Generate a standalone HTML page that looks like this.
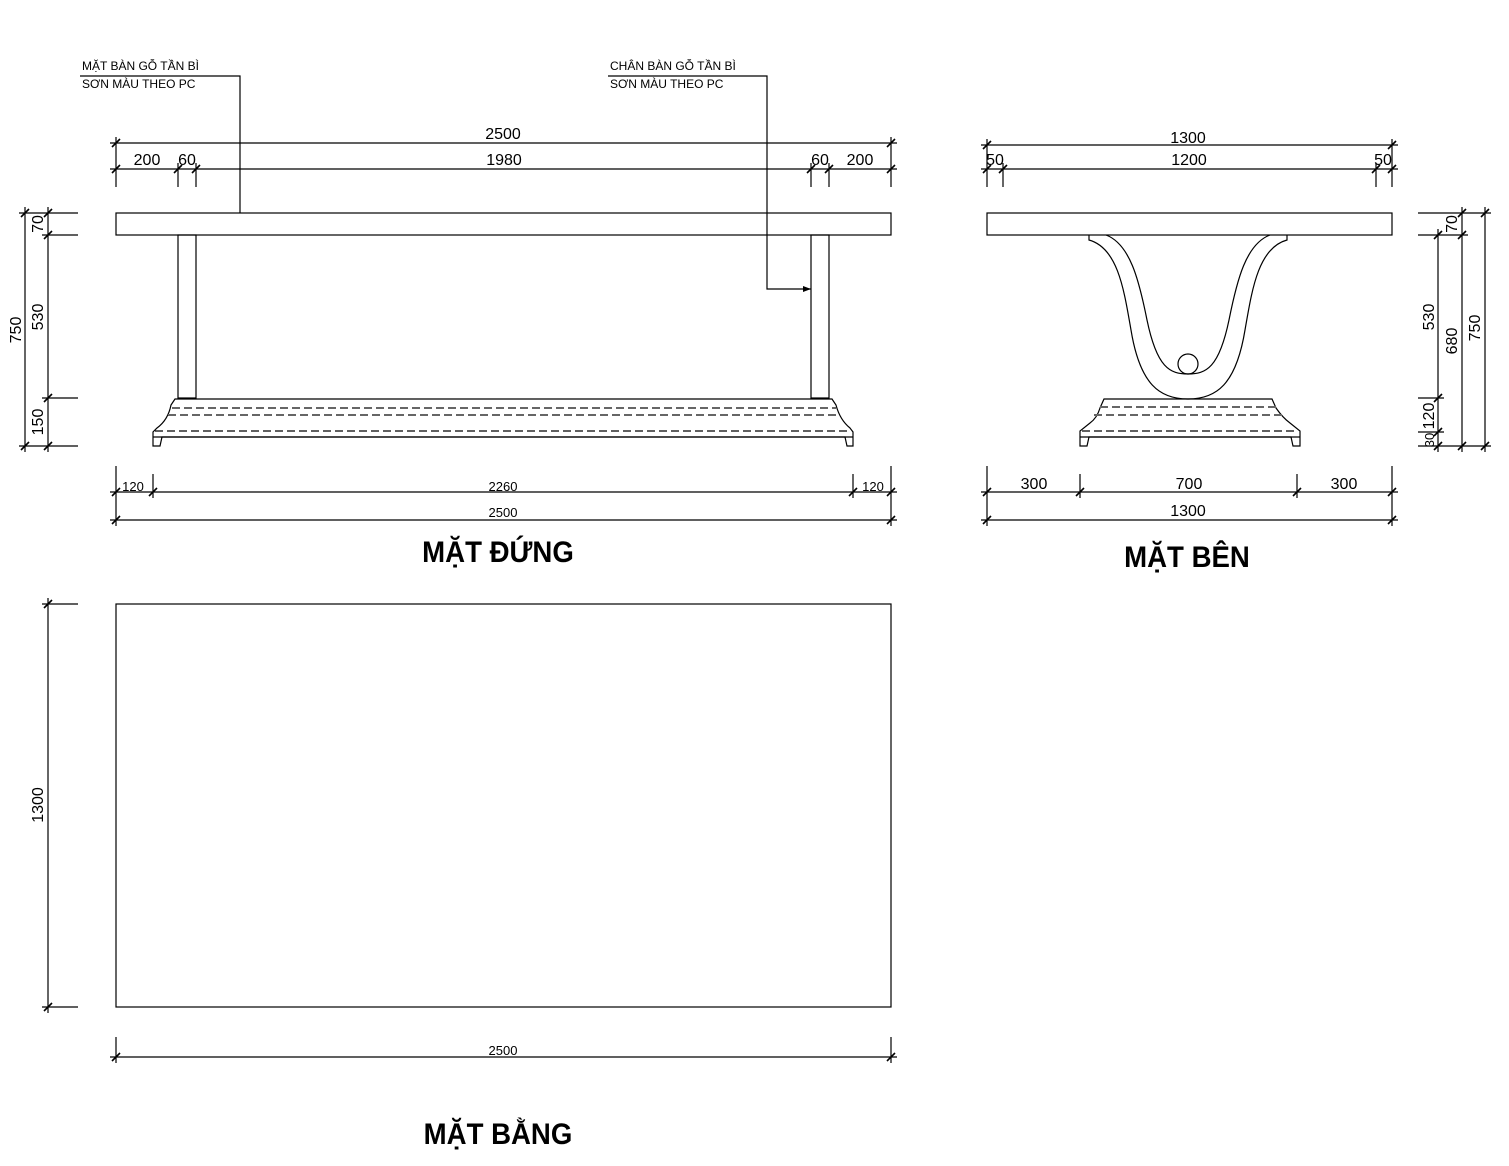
<!DOCTYPE html>
<html><head><meta charset="utf-8"><style>
html,body{margin:0;padding:0;background:#fff;}
svg{display:block;font-family:"Liberation Sans",sans-serif;}
.t{font-size:16px;fill:#000;}
.s{font-size:12px;fill:#000;}
.h{font-size:30px;font-weight:bold;fill:#000;}
</style></head><body>
<svg width="1509" height="1166" viewBox="0 0 1509 1166" xmlns="http://www.w3.org/2000/svg">
<defs>
<g id="tk"><line x1="-4" y1="4" x2="4" y2="-4" stroke="#000" stroke-width="1.6"/></g>
</defs>
<g stroke="#000" stroke-width="1.2" fill="none">
<rect x="116" y="213" width="775" height="22"/>
<rect x="178" y="235" width="18" height="163"/>
<rect x="811" y="235" width="18" height="163"/>
<path d="M175,399 L832,399 L836,405 Q840,420 850,428 L853,432 L853,446 L847,446 L845,437 L162,437 L160,446 L153,446 L153,432 L157,428 Q168,420 171,405 Z"/>
<line x1="153" y1="437" x2="853" y2="437"/>
<line x1="172" y1="408" x2="836" y2="408" stroke="#666" stroke-width="2" stroke-dasharray="8,4"/>
<line x1="168" y1="415" x2="840" y2="415" stroke="#666" stroke-width="2" stroke-dasharray="8,4"/>
<line x1="155" y1="431" x2="851" y2="431" stroke-dasharray="8,4"/>
<line x1="110" y1="143" x2="897" y2="143"/>
<line x1="110" y1="169" x2="897" y2="169"/>
<line x1="116" y1="137" x2="116" y2="187"/>
<line x1="891" y1="137" x2="891" y2="187"/>
<line x1="178" y1="163" x2="178" y2="187"/><line x1="196" y1="163" x2="196" y2="187"/>
<line x1="811" y1="163" x2="811" y2="187"/><line x1="829" y1="163" x2="829" y2="187"/>
<line x1="25" y1="207" x2="25" y2="452"/>
<line x1="48" y1="207" x2="48" y2="452"/>
<line x1="19" y1="213" x2="78" y2="213"/>
<line x1="42" y1="235" x2="78" y2="235"/>
<line x1="42" y1="398" x2="78" y2="398"/>
<line x1="19" y1="446" x2="78" y2="446"/>
<line x1="110" y1="492" x2="897" y2="492"/>
<line x1="110" y1="520" x2="897" y2="520"/>
<line x1="116" y1="466" x2="116" y2="526"/>
<line x1="891" y1="466" x2="891" y2="526"/>
<line x1="153" y1="474" x2="153" y2="498"/>
<line x1="853" y1="474" x2="853" y2="498"/>
<polyline points="80,76 240,76 240,213"/>
<polyline points="608,76 767,76 767,289 811,289"/>
<rect x="987" y="213" width="405" height="22"/>
<path d="M1089,235 L1089,240 C1118,248 1124,290 1131,330 C1140,385 1160,399 1188,399 C1216,399 1236,385 1245,330 C1252,290 1258,248 1287,240 L1287,235"/>
<path d="M1106,235 C1130,244 1139,280 1147,320 C1157,368 1170,374 1188,374 C1206,374 1219,368 1229,320 C1237,280 1246,244 1270,235"/>
<circle cx="1188" cy="364" r="10"/>
<path d="M1104,399 L1272,399 L1276,408 Q1283,418 1290,423 L1300,431 L1300,446 L1293,446 L1291,437 L1089,437 L1087,446 L1080,446 L1080,431 L1090,423 Q1097,418 1100,408 Z"/>
<line x1="1080" y1="437" x2="1300" y2="437"/>
<line x1="1100" y1="407" x2="1276" y2="407" stroke="#666" stroke-width="2" stroke-dasharray="8,4"/>
<line x1="1094" y1="415" x2="1283" y2="415" stroke="#666" stroke-width="2" stroke-dasharray="8,4"/>
<line x1="1082" y1="431" x2="1298" y2="431" stroke-dasharray="8,4"/>
<line x1="981" y1="145" x2="1398" y2="145"/>
<line x1="981" y1="169" x2="1398" y2="169"/>
<line x1="987" y1="139" x2="987" y2="187"/><line x1="1392" y1="139" x2="1392" y2="187"/>
<line x1="1003" y1="163" x2="1003" y2="187"/><line x1="1376" y1="163" x2="1376" y2="187"/>
<line x1="1438" y1="229" x2="1438" y2="452"/>
<line x1="1462" y1="207" x2="1462" y2="452"/>
<line x1="1485" y1="207" x2="1485" y2="452"/>
<line x1="1418" y1="213" x2="1491" y2="213"/>
<line x1="1418" y1="235" x2="1468" y2="235"/>
<line x1="1418" y1="398" x2="1444" y2="398"/>
<line x1="1418" y1="432" x2="1444" y2="432"/>
<line x1="1418" y1="446" x2="1491" y2="446"/>
<line x1="981" y1="492" x2="1398" y2="492"/>
<line x1="981" y1="520" x2="1398" y2="520"/>
<line x1="987" y1="466" x2="987" y2="526"/><line x1="1392" y1="466" x2="1392" y2="526"/>
<line x1="1080" y1="474" x2="1080" y2="498"/><line x1="1297" y1="474" x2="1297" y2="498"/>
<rect x="116" y="604" width="775" height="403"/>
<line x1="48" y1="598" x2="48" y2="1013"/>
<line x1="42" y1="604" x2="78" y2="604"/>
<line x1="42" y1="1007" x2="78" y2="1007"/>
<line x1="110" y1="1057" x2="897" y2="1057"/>
<line x1="116" y1="1037" x2="116" y2="1063"/>
<line x1="891" y1="1037" x2="891" y2="1063"/>
</g>
<g>
<use href="#tk" x="116" y="143"/><use href="#tk" x="891" y="143"/>
<use href="#tk" x="116" y="169"/><use href="#tk" x="178" y="169"/><use href="#tk" x="196" y="169"/><use href="#tk" x="811" y="169"/><use href="#tk" x="829" y="169"/><use href="#tk" x="891" y="169"/>
<use href="#tk" x="25" y="213"/><use href="#tk" x="25" y="446"/>
<use href="#tk" x="48" y="213"/><use href="#tk" x="48" y="235"/><use href="#tk" x="48" y="398"/><use href="#tk" x="48" y="446"/>
<use href="#tk" x="116" y="492"/><use href="#tk" x="153" y="492"/><use href="#tk" x="853" y="492"/><use href="#tk" x="891" y="492"/>
<use href="#tk" x="116" y="520"/><use href="#tk" x="891" y="520"/>
<use href="#tk" x="987" y="145"/><use href="#tk" x="1392" y="145"/>
<use href="#tk" x="987" y="169"/><use href="#tk" x="1003" y="169"/><use href="#tk" x="1376" y="169"/><use href="#tk" x="1392" y="169"/>
<use href="#tk" x="1438" y="235"/><use href="#tk" x="1438" y="398"/><use href="#tk" x="1438" y="432"/><use href="#tk" x="1438" y="446"/>
<use href="#tk" x="1462" y="213"/><use href="#tk" x="1462" y="235"/><use href="#tk" x="1462" y="446"/>
<use href="#tk" x="1485" y="213"/><use href="#tk" x="1485" y="446"/>
<use href="#tk" x="987" y="492"/><use href="#tk" x="1080" y="492"/><use href="#tk" x="1297" y="492"/><use href="#tk" x="1392" y="492"/>
<use href="#tk" x="987" y="520"/><use href="#tk" x="1392" y="520"/>
<use href="#tk" x="48" y="604"/><use href="#tk" x="48" y="1007"/>
<use href="#tk" x="116" y="1057"/><use href="#tk" x="891" y="1057"/>
</g>
<polygon points="811,289 803,286 803,292" fill="#000"/>
<g class="s">
<text x="82" y="70">MẶT BÀN GỖ TẦN BÌ</text>
<text x="82" y="88">SƠN MÀU THEO PC</text>
<text x="610" y="70">CHÂN BÀN GỖ TẦN BÌ</text>
<text x="610" y="88">SƠN MÀU THEO PC</text>
</g>
<g class="t" text-anchor="middle">
<text x="503" y="139">2500</text>
<text x="147" y="165">200</text>
<text x="187" y="165">60</text>
<text x="504" y="165">1980</text>
<text x="820" y="165">60</text>
<text x="860" y="165">200</text>
<text x="1188" y="143">1300</text>
<text x="995" y="165">50</text>
<text x="1189" y="165">1200</text>
<text x="1383" y="165">50</text>
<text x="1034" y="489">300</text>
<text x="1189" y="489">700</text>
<text x="1344" y="489">300</text>
<text x="1188" y="516">1300</text>
<text x="133" y="491" style="font-size:13px">120</text>
<text x="503" y="491" style="font-size:13px">2260</text>
<text x="873" y="491" style="font-size:13px">120</text>
<text x="503" y="517" style="font-size:13px">2500</text>
<text x="503" y="1055" style="font-size:13px">2500</text>
<text transform="translate(21,330) rotate(-90)">750</text>
<text transform="translate(43,224) rotate(-90)">70</text>
<text transform="translate(43,317) rotate(-90)">530</text>
<text transform="translate(43,422) rotate(-90)">150</text>
<text transform="translate(43,805) rotate(-90)">1300</text>
<text transform="translate(1457,224) rotate(-90)">70</text>
<text transform="translate(1434,317) rotate(-90)">530</text>
<text transform="translate(1457,341) rotate(-90)">680</text>
<text transform="translate(1480,328) rotate(-90)">750</text>
<text transform="translate(1434,416) rotate(-90)">120</text>
<text transform="translate(1434,440) rotate(-90)" style="font-size:13px">30</text>
</g>
<g class="h" text-anchor="middle">
<text x="498" y="562" transform="translate(498,0) scale(0.92,1) translate(-498,0)">MẶT ĐỨNG</text>
<text x="1187" y="567" transform="translate(1187,0) scale(0.92,1) translate(-1187,0)">MẶT BÊN</text>
<text x="498" y="1144" transform="translate(498,0) scale(0.92,1) translate(-498,0)">MẶT BẰNG</text>
</g>
</svg>
</body></html>
